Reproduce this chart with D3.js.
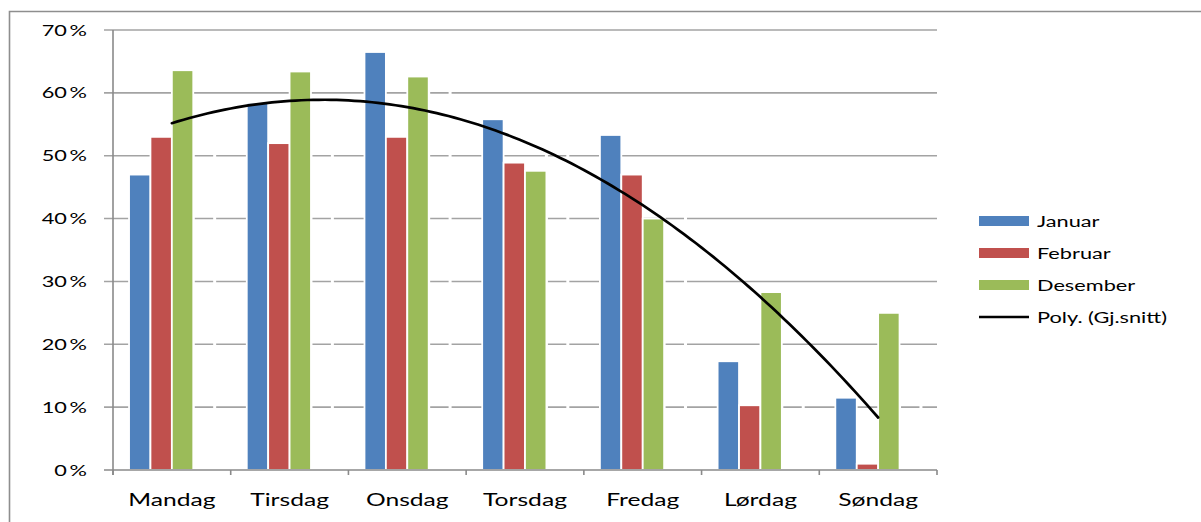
<!DOCTYPE html>
<html>
<head>
<meta charset="utf-8">
<script src="https://cdn.jsdelivr.net/npm/d3@7"></script>
<style>
  html, body { margin: 0; padding: 0; background: #fff; }
  svg { display: block; }
  text { font-family: Lato, "Liberation Sans", sans-serif; fill: #000; }
</style>
</head>
<body>
<svg id="chart" width="1201" height="522"></svg>
<script>
// Share of visits per weekday (percent), per month
const days = ["Mandag", "Tirsdag", "Onsdag", "Torsdag", "Fredag", "Lørdag", "Søndag"];
const januar   = [47.0, 58.4, 66.5, 55.8, 53.3, 17.3, 11.5];
const februar  = [53.0, 52.0, 53.0, 48.9, 47.0, 10.3, 1.0];
const desember = [63.6, 63.4, 62.6, 47.6, 40.0, 28.3, 25.0];
// Average series: bar slot is kept but drawn without fill, only its trendline shows
const gjSnitt  = [54.5, 57.9, 60.7, 50.8, 46.8, 18.6, 12.5];
const yTicks = [0, 10, 20, 30, 40, 50, 60, 70];

const seriesNames = ["Januar", "Februar", "Desember", "Gj.snitt"];
const seriesValues = [januar, februar, desember, gjSnitt];
const colors = { "Januar": "#4F81BD", "Februar": "#C0504D", "Desember": "#9BBB59" };

const svg = d3.select("#chart");
const plot = { left: 113, right: 937, top: 30, bottom: 470 };
const textStretch = 1.45;   // wide lettering of the chart's typeface

// outer chart frame (open to the right and bottom)
svg.append("path")
  .attr("d", "M9.5,522 V11.5 H1201")
  .attr("fill", "none").attr("stroke", "#8e8e8e").attr("stroke-width", 1.6);

const x = d3.scaleBand().domain(days).range([plot.left, plot.right])
  .paddingInner(1.5 / 5.5).paddingOuter(0.75 / 5.5);
const xs = d3.scaleBand().domain(seriesNames).range([0, x.bandwidth()]);
const y = d3.scaleLinear().domain([0, 70]).range([plot.bottom, plot.top]);

// horizontal gridlines with small tick stubs left of the axis
svg.append("g").selectAll("line").data(yTicks.filter(d => d > 0)).join("line")
  .attr("x1", plot.left - 9).attr("x2", plot.right)
  .attr("y1", d => y(d)).attr("y2", d => y(d))
  .attr("stroke", "#a3a3a3").attr("stroke-width", 1.6);

// bars: the unfilled average bar goes underneath, its white outline breaks the gridlines
const rows = days.map((day, i) => ({ day, i }));
const cells = d => seriesNames.map((s, k) => ({ s, v: seriesValues[k][d.i] }));
const hiddenLayer = svg.append("g");
const barLayer = svg.append("g");
function drawBars(layer, keep) {
  layer.selectAll("g").data(rows).join("g")
    .attr("transform", d => `translate(${x(d.day)},0)`)
    .selectAll("rect")
    .data(d => cells(d).filter(keep))
    .join("rect")
    .attr("x", d => xs(d.s))
    .attr("width", xs.bandwidth())
    .attr("y", d => y(d.v))
    .attr("height", d => y(0) - y(d.v))
    .attr("fill", d => colors[d.s] || "none")
    .attr("stroke", "#fff")
    .attr("stroke-width", d => colors[d.s] ? 1.8 : 3);
}
drawBars(hiddenLayer, c => !colors[c.s]);
drawBars(barLayer, c => !!colors[c.s]);

// axes
const axisColor = "#8a8a8a";
svg.append("line").attr("x1", plot.left).attr("x2", plot.left)
  .attr("y1", plot.top).attr("y2", plot.bottom + 5)
  .attr("stroke", axisColor).attr("stroke-width", 1.6);
svg.append("line").attr("x1", plot.left - 9).attr("x2", plot.right)
  .attr("y1", plot.bottom).attr("y2", plot.bottom)
  .attr("stroke", axisColor).attr("stroke-width", 1.6);
const bounds = days.map(d => x(d) - x.step() * x.paddingInner() / 2).concat([plot.right]);
svg.append("g").selectAll("line").data(bounds).join("line")
  .attr("x1", d => d).attr("x2", d => d)
  .attr("y1", plot.bottom).attr("y2", plot.bottom + 5)
  .attr("stroke", axisColor).attr("stroke-width", 1.6);

// y tick labels
svg.append("g").selectAll("text").data(yTicks).join("text")
  .attr("transform", d => `translate(87,${y(d) + 5.5}) scale(${textStretch},1)`)
  .attr("text-anchor", "end")
  .style("font-size", "15px")
  .text(d => `${d}\u2009%`);

// x category labels
svg.append("g").selectAll("text").data(days).join("text")
  .attr("transform", d => `translate(${x(d) + x.bandwidth() / 2},506) scale(${textStretch},1)`)
  .attr("text-anchor", "middle")
  .style("font-size", "17px")
  .text(d => d);

// second-order polynomial trendline fitted to the average series
function polyFit2(ys) {
  const s = [0, 0, 0, 0, 0], t = [0, 0, 0];
  ys.forEach((v, i) => {
    for (let p = 0; p < 5; p++) s[p] += Math.pow(i, p);
    for (let p = 0; p < 3; p++) t[p] += v * Math.pow(i, p);
  });
  const A = [[s[0], s[1], s[2], t[0]], [s[1], s[2], s[3], t[1]], [s[2], s[3], s[4], t[2]]];
  for (let c = 0; c < 3; c++) {
    for (let r = c + 1; r < 3; r++) {
      const f = A[r][c] / A[c][c];
      for (let k = c; k < 4; k++) A[r][k] -= f * A[c][k];
    }
  }
  const b = [0, 0, 0];
  for (let r = 2; r >= 0; r--) {
    let acc = A[r][3];
    for (let k = r + 1; k < 3; k++) acc -= A[r][k] * b[k];
    b[r] = acc / A[r][r];
  }
  return u => b[0] + b[1] * u + b[2] * u * u;
}
const trend = polyFit2(gjSnitt);
const xi = d3.scaleLinear().domain([0, days.length - 1])
  .range([x(days[0]) + x.bandwidth() / 2, x(days[days.length - 1]) + x.bandwidth() / 2]);
const samples = d3.range(0, days.length - 1 + 1e-9, 0.05);
svg.append("path")
  .datum(samples)
  .attr("d", d3.line().x(u => xi(u)).y(u => y(trend(u))))
  .attr("fill", "none").attr("stroke", "#000").attr("stroke-width", 2.7)
  .attr("stroke-linejoin", "round").attr("stroke-linecap", "round");

// legend
const legendItems = ["Januar", "Februar", "Desember", "Poly. (Gj.snitt)"];
const lg = svg.append("g").selectAll("g").data(legendItems).join("g")
  .attr("transform", (d, i) => `translate(979,${221 + i * 32})`);
lg.filter((d, i) => i < 3).append("rect")
  .attr("x", 0).attr("y", -5).attr("width", 50).attr("height", 10)
  .attr("fill", d => colors[d]);
lg.filter((d, i) => i === 3).append("line")
  .attr("x1", 0).attr("x2", 50).attr("y1", 0).attr("y2", 0)
  .attr("stroke", "#000").attr("stroke-width", 2.6);
lg.append("text")
  .attr("transform", `translate(58,5.5) scale(${textStretch},1)`)
  .style("font-size", "15px")
  .text(d => d);
</script>
</body>
</html>
